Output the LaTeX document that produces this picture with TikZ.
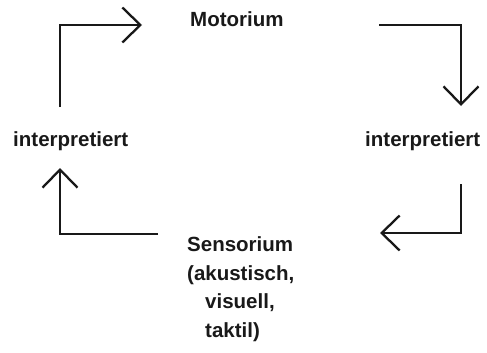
\documentclass[tikz,border=0pt]{standalone}
\usepackage{fontspec}
\setmainfont{Liberation Sans}
\usetikzlibrary{arrows.meta}
\begin{document}
\begin{tikzpicture}[x=1pt,y=-1pt,
  lbl/.style={anchor=base west,inner sep=0pt,font=\fontsize{20.5}{24}\selectfont\bfseries,text=black!90},
  flow/.style={line width=2.3pt,draw=black!90,-{Straight Barb[length=18pt,width=35pt,line width=2.3pt]}}]
\useasboundingbox (0,0) rectangle (487,353);
\node[lbl] (mot) at (190,26.5) {Motorium};
\node[lbl] (il) at (13,146.5) {interpretiert};
\node[lbl] (ir) at (365,146.5) {interpretiert};
\node[lbl] (s1) at (187,251) {Sensorium};
\node[lbl] (s2) at (187,280) {(akustisch,};
\node[lbl] (s3) at (205,308.5) {visuell,};
\node[lbl] (s4) at (205,337) {taktil)};
\coordinate (a1s) at (60,107);
\coordinate (a1e) at (142,25);
\coordinate (a2s) at (379,25);
\coordinate (a2e) at (461,106);
\coordinate (a3s) at (158,234);
\coordinate (a3e) at (60,168);
\coordinate (a4s) at (461,184);
\coordinate (a4e) at (380,233);
\draw[flow] (a1s) |- (a1e);
\draw[flow] (a2s) -| (a2e);
\draw[flow] (a3s) -| (a3e);
\draw[flow] (a4s) |- (a4e);
\end{tikzpicture}
\end{document}
